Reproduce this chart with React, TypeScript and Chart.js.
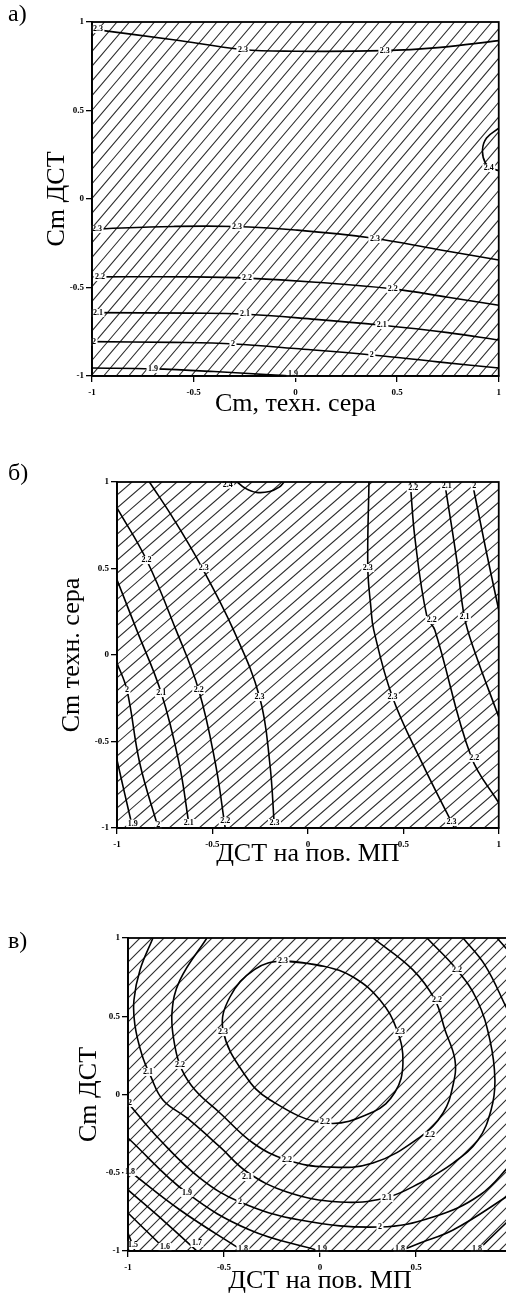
import React, { useEffect, useRef } from "react";
import { Chart, registerables } from "chart.js";

Chart.register(...registerables);

type Pt = [number, number];
type Lbl = [number, number, string];

const tickValues = [-1, -0.5, 0, 0.5, 1];

// ---------- Panel а: x = Cm, техн. сера ; y = Cm ДСТ ----------
const a_23_top: Pt[] = [[-1, 0.96], [-0.6, 0.9], [-0.26, 0.845], [0, 0.835], [0.43, 0.838], [0.7, 0.855], [1, 0.895]];
const a_24: Pt[] = [[1, 0.4], [0.94, 0.345], [0.92, 0.277], [0.935, 0.203], [0.975, 0.17], [1, 0.16]];
const a_23: Pt[] = [[-1, -0.17], [-0.6, -0.155], [-0.3, -0.155], [0, -0.175], [0.375, -0.22], [0.7, -0.285], [1, -0.345]];
const a_22: Pt[] = [[-1, -0.44], [-0.5, -0.44], [-0.24, -0.447], [0.1, -0.47], [0.48, -0.508], [0.75, -0.555], [1, -0.6]];
const a_21: Pt[] = [[-1, -0.642], [-0.5, -0.645], [-0.26, -0.65], [0.1, -0.68], [0.415, -0.712], [0.75, -0.755], [1, -0.797]];
const a_20: Pt[] = [[-1, -0.806], [-0.6, -0.81], [-0.3, -0.819], [0, -0.845], [0.376, -0.881], [0.7, -0.92], [1, -0.955]];
const a_19: Pt[] = [[-1, -0.955], [-0.7, -0.96], [-0.4, -0.975], [-0.1, -0.995], [0, -1]];
const a_labels: Lbl[] = [
  [-0.971, 0.96, "2.3"], [-0.258, 0.842, "2.3"], [0.44, 0.836, "2.3"],
  [0.951, 0.175, "2.4"],
  [-0.975, -0.169, "2.3"], [-0.287, -0.158, "2.3"], [0.391, -0.226, "2.3"],
  [-0.961, -0.441, "2.2"], [-0.238, -0.446, "2.2"], [0.479, -0.508, "2.2"],
  [-0.971, -0.644, "2.1"], [-0.248, -0.65, "2.1"], [0.425, -0.712, "2.1"],
  [-0.99, -0.808, "2"], [-0.307, -0.819, "2"], [0.376, -0.881, "2"],
  [-0.7, -0.96, "1.9"], [-0.012, -0.989, "1.9"],
];

// ---------- Panel б: x = ДСТ на пов. МП ; y = Cm техн. сера ----------
const b_24: Pt[] = [[-0.37, 1], [-0.33, 0.965], [-0.27, 0.94], [-0.2, 0.945], [-0.15, 0.97], [-0.124, 1]];
const b_23_left: Pt[] = [[-0.83, 1], [-0.7, 0.78], [-0.557, 0.51], [-0.39, 0.145], [-0.253, -0.243], [-0.2, -0.62], [-0.175, -1]];
const b_22_left: Pt[] = [[-1, 0.85], [-0.845, 0.549], [-0.691, 0.145], [-0.572, -0.202], [-0.485, -0.624], [-0.433, -1]];
const b_21_left: Pt[] = [[-1, 0.434], [-0.897, 0.145], [-0.768, -0.22], [-0.675, -0.624], [-0.62, -1]];
const b_20_left: Pt[] = [[-1, -0.046], [-0.948, -0.202], [-0.881, -0.624], [-0.784, -1]];
const b_19_left: Pt[] = [[-1, -0.607], [-0.96, -0.8], [-0.918, -1]];
const b_23_right: Pt[] = [[0.32, 1], [0.314, 0.503], [0.33, 0.277], [0.345, 0.145], [0.443, -0.243], [0.598, -0.624], [0.768, -1]];
const b_22_right: Pt[] = [[0.536, 1], [0.562, 0.665], [0.624, 0.22], [0.665, 0.145], [0.856, -0.59], [1, -0.855]];
const b_21_right: Pt[] = [[0.716, 1], [0.78, 0.55], [0.82, 0.22], [0.871, 0.029], [1, -0.358]];
const b_20_right: Pt[] = [[0.861, 1], [0.933, 0.607], [1, 0.26]];
const b_labels: Lbl[] = [
  [-0.42, 0.985, "2.4"],
  [-0.845, 0.549, "2.2"], [-0.546, 0.503, "2.3"], [0.314, 0.503, "2.3"],
  [0.552, 0.965, "2.2"], [0.727, 0.975, "2.1"], [0.871, 0.975, "2"],
  [0.649, 0.202, "2.2"], [0.82, 0.22, "2.1"],
  [-0.948, -0.202, "2"], [-0.768, -0.22, "2.1"], [-0.572, -0.202, "2.2"], [-0.253, -0.243, "2.3"], [0.443, -0.243, "2.3"],
  [0.871, -0.595, "2.2"],
  [-0.918, -0.975, "1.9"], [-0.784, -0.985, "2"], [-0.624, -0.971, "2.1"], [-0.433, -0.96, "2.2"], [-0.175, -0.971, "2.3"], [0.753, -0.965, "2.3"],
];

// ---------- Panel в: x = ДСТ на пов. МП ; y = Cm ДСТ ----------
// closed contour: starts at its top label and repeats the first two points so the join is smooth
const c_23: Pt[] = [[-0.193, 0.853], [0.02, 0.82], [0.172, 0.751], [0.3125, 0.604], [0.401, 0.412], [0.432, 0.201], [0.391, 0.016], [0.276, -0.112], [0.026, -0.182], [-0.26, -0.035], [-0.391, 0.125], [-0.505, 0.412], [-0.469, 0.623], [-0.34, 0.8], [-0.193, 0.853], [0.02, 0.82]];
const c_22: Pt[] = [[-0.589, 1], [-0.729, 0.732], [-0.771, 0.521], [-0.755, 0.304], [-0.719, 0.157], [-0.651, 0.029], [-0.521, -0.118], [-0.349, -0.31], [-0.172, -0.419], [0.036, -0.463], [0.276, -0.438], [0.521, -0.272], [0.641, -0.118], [0.693, 0.061], [0.703, 0.22], [0.651, 0.412], [0.599, 0.604], [0.484, 0.796], [0.276, 1]];
const c_21: Pt[] = [[-0.87, 1], [-0.9375, 0.796], [-0.969, 0.604], [-0.964, 0.444], [-0.927, 0.252], [-0.885, 0.125], [-0.818, -0.035], [-0.693, -0.15], [-0.521, -0.335], [-0.38, -0.495], [-0.172, -0.623], [0.104, -0.687], [0.339, -0.661], [0.521, -0.565], [0.693, -0.438], [0.823, -0.291], [0.891, -0.099], [0.911, 0.093], [0.885, 0.348], [0.818, 0.604], [0.714, 0.796], [0.557, 1]];
const c_20_low: Pt[] = [[-1, -0.054], [-0.833, -0.291], [-0.625, -0.534], [-0.417, -0.687], [-0.104, -0.802], [0.3125, -0.847], [0.589, -0.783], [0.833, -0.642], [1, -0.438]];
const c_20_top: Pt[] = [[0.745, 1], [0.859, 0.827], [0.969, 0.559], [1, 0.476]];
const c_19_top: Pt[] = [[0.922, 1], [1, 0.891]];
const c_19_low: Pt[] = [[-1, -0.278], [-0.693, -0.629], [-0.365, -0.866], [0, -1]];
const c_19_right: Pt[] = [[0.417, -1], [0.521, -0.949], [0.693, -0.866], [0.969, -0.655], [1, -0.623]];
const c_18_right: Pt[] = [[0.818, -1], [0.969, -0.821], [1, -0.783]];
const c_18: Pt[] = [[-1, -0.482], [-0.729, -0.738], [-0.401, -1]];
const c_17: Pt[] = [[-1, -0.61], [-0.807, -0.815], [-0.641, -1]];
const c_16: Pt[] = [[-1, -0.757], [-0.797, -1]];
const c_15: Pt[] = [[-1, -0.885], [-0.964, -1]];
const c_labels: Lbl[] = [
  [-0.193, 0.853, "2.3"], [-0.505, 0.399, "2.3"], [0.417, 0.399, "2.3"], [0.026, -0.176, "2.2"],
  [0.714, 0.796, "2.2"], [0.609, 0.604, "2.2"],
  [-0.896, 0.144, "2.1"], [-0.729, 0.189, "2.2"], [-0.99, -0.054, "2"],
  [-0.172, -0.419, "2.2"], [0.573, -0.259, "2.2"],
  [-0.99, -0.495, "1.8"], [-0.38, -0.527, "2.1"], [-0.693, -0.629, "1.9"], [-0.417, -0.687, "2"],
  [0.349, -0.661, "2.1"], [0.3125, -0.847, "2"],
  [-0.974, -0.962, "1.5"], [-0.807, -0.974, "1.6"], [-0.641, -0.949, "1.7"], [-0.401, -0.985, "1.8"],
  [0.01, -0.985, "1.9"], [0.417, -0.985, "1.8"], [0.818, -0.985, "1.8"],
];

interface PanelDef {
  id: string;
  top: number;
  width: number;
  height: number;
  pad: { left: number; top: number; right: number; bottom: number };
  yWidth: number;
  xHeight: number;
  xTitle: string;
  yTitle: string;
  lines: Pt[][];
  labels: Lbl[];
  hatchStep: number;
  hatchK: number;
}

const panels: PanelDef[] = [
  {
    id: "a", top: 0, width: 506, height: 420,
    pad: { left: 44, top: 22, right: 7, bottom: 3 }, yWidth: 48, xHeight: 41,
    xTitle: "Cm, техн. сера", yTitle: "Cm ДСТ",
    lines: [a_23_top, a_24, a_23, a_22, a_21, a_20, a_19], labels: a_labels,
    hatchStep: 12.5, hatchK: 0.85,
  },
  {
    id: "b", top: 440, width: 506, height: 430,
    pad: { left: 59, top: 42, right: 1, bottom: 3 }, yWidth: 58, xHeight: 39,
    xTitle: "ДСТ на пов. МП", yTitle: "Cm техн. сера",
    lines: [b_24, b_23_left, b_22_left, b_21_left, b_20_left, b_19_left, b_23_right, b_22_right, b_21_right, b_20_right],
    labels: b_labels, hatchStep: 15, hatchK: 1.15,
  },
  {
    id: "c", top: 890, width: 520, height: 405,
    pad: { left: 76, top: 48, right: 8, bottom: 1 }, yWidth: 52, xHeight: 43,
    xTitle: "ДСТ на пов. МП", yTitle: "Cm ДСТ",
    lines: [c_23, c_22, c_21, c_20_low, c_20_top, c_19_top, c_19_low, c_19_right, c_18_right, c_18, c_17, c_16, c_15],
    labels: c_labels, hatchStep: 12, hatchK: 1.0,
  },
];

const SERIF = '"Liberation Serif", "Times New Roman", serif';

function Panel({ def }: { def: PanelDef }) {
  const ref = useRef<HTMLCanvasElement | null>(null);
  useEffect(() => {
    const canvas = ref.current;
    if (!canvas) return;
    const hatch = {
      id: "hatch" + def.id,
      beforeDatasetsDraw(chart: any) {
        const { ctx, chartArea: ca } = chart;
        ctx.save();
        ctx.beginPath();
        ctx.rect(ca.left, ca.top, ca.right - ca.left, ca.bottom - ca.top);
        ctx.clip();
        ctx.strokeStyle = "#2e2e2e";
        ctx.lineWidth = 1.1;
        const h = ca.bottom - ca.top;
        ctx.beginPath();
        for (let x0 = ca.left - h * def.hatchK; x0 < ca.right + def.hatchStep; x0 += def.hatchStep) {
          ctx.moveTo(x0, ca.bottom);
          ctx.lineTo(x0 + h * def.hatchK, ca.top);
        }
        ctx.stroke();
        ctx.restore();
      },
    };
    const labels = {
      id: "labels" + def.id,
      afterDatasetsDraw(chart: any) {
        const { ctx } = chart;
        const xs = chart.scales.x;
        const ys = chart.scales.y;
        ctx.save();
        ctx.font = "bold 8px " + SERIF;
        ctx.textAlign = "center";
        ctx.textBaseline = "middle";
        for (const [x, y, t] of def.labels) {
          const px = xs.getPixelForValue(x);
          const py = ys.getPixelForValue(y);
          const w = ctx.measureText(t).width;
          ctx.fillStyle = "#fff";
          ctx.fillRect(px - w / 2 - 1.5, py - 4, w + 3, 8);
          ctx.fillStyle = "#000";
          ctx.fillText(t, px, py);
        }
        ctx.restore();
      },
    };
    const frame = {
      id: "frame" + def.id,
      afterDraw(chart: any) {
        const { ctx, chartArea: ca } = chart;
        ctx.save();
        ctx.strokeStyle = "#000";
        ctx.lineWidth = 1.8;
        ctx.strokeRect(ca.left, ca.top, ca.right - ca.left, ca.bottom - ca.top);
        ctx.restore();
      },
    };
    const tickFont = { family: SERIF, size: 9, weight: "bold" as const };
    const titleFont = { family: SERIF, size: 26, lineHeight: 1 };
    const chart = new Chart(canvas, {
      type: "line",
      data: {
        datasets: def.lines.map((pts) => ({
          data: pts.map(([x, y]) => ({ x, y })),
          borderColor: "#000",
          borderWidth: 1.6,
          pointRadius: 0,
          tension: 0.4,
          fill: false,
        })),
      },
      options: {
        animation: false,
        responsive: false,
        maintainAspectRatio: false,
        events: [],
        layout: { padding: def.pad },
        plugins: { legend: { display: false }, tooltip: { enabled: false }, title: { display: false } },
        scales: {
          x: {
            type: "linear",
            min: -1,
            max: 1,
            afterBuildTicks: (s: any) => { s.ticks = tickValues.map((v) => ({ value: v })); },
            afterFit: (s: any) => { s.height = def.xHeight; },
            ticks: { font: tickFont, color: "#000", padding: 5, maxRotation: 0, autoSkip: false, callback: (v: any) => String(v) },
            grid: { display: true, drawOnChartArea: false, drawTicks: true, tickLength: 6, color: "#000", lineWidth: 1.3 },
            border: { display: true, color: "#000", width: 1.8 },
            title: { display: true, text: def.xTitle, font: titleFont, color: "#000", padding: { top: 0, bottom: 0 } },
          },
          y: {
            type: "linear",
            min: -1,
            max: 1,
            afterBuildTicks: (s: any) => { s.ticks = tickValues.map((v) => ({ value: v })); },
            afterFit: (s: any) => { s.width = def.yWidth; },
            ticks: { font: tickFont, color: "#000", padding: 2, autoSkip: false, callback: (v: any) => String(v) },
            grid: { display: true, drawOnChartArea: false, drawTicks: true, tickLength: 6, color: "#000", lineWidth: 1.3 },
            border: { display: true, color: "#000", width: 1.8 },
            title: { display: true, text: def.yTitle, font: titleFont, color: "#000", padding: { top: 0, bottom: 0 } },
          },
        },
      } as any,
      plugins: [hatch, labels, frame],
    });
    return () => chart.destroy();
  }, [def]);
  return (
    <canvas
      ref={ref}
      width={def.width}
      height={def.height}
      style={{ position: "absolute", left: 0, top: def.top, width: def.width, height: def.height, display: "block" }}
    />
  );
}

const letterStyle: React.CSSProperties = {
  position: "absolute",
  left: 8,
  fontFamily: SERIF,
  fontSize: 24,
  lineHeight: "24px",
  color: "#000",
};

export default function App() {
  return (
    <div style={{ position: "absolute", left: 0, top: 0, width: 506, height: 1295, overflow: "hidden", background: "#fff" }}>
      {panels.map((p) => (
        <Panel key={p.id} def={p} />
      ))}
      <div style={{ ...letterStyle, top: 1 }}>а)</div>
      <div style={{ ...letterStyle, top: 460 }}>б)</div>
      <div style={{ ...letterStyle, top: 928 }}>в)</div>
    </div>
  );
}
